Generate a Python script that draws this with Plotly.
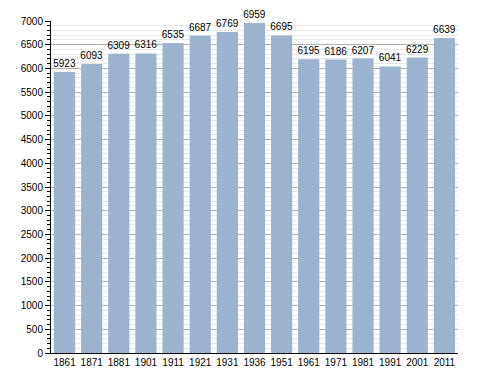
import plotly.graph_objects as go

years = ["1861", "1871", "1881", "1901", "1911", "1921", "1931", "1936", "1951", "1961", "1971", "1981", "1991", "2001", "2011"]
population = [5923, 6093, 6309, 6316, 6535, 6687, 6769, 6959, 6695, 6195, 6186, 6207, 6041, 6229, 6639]

fig = go.Figure(go.Bar(
    x=years, y=population,
    marker=dict(color="#9bb3cf", line=dict(width=0)),
    text=[str(v) for v in population], textposition="outside",
    textfont=dict(family="Liberation Sans, Arial", size=10, color="#000"),
    constraintext="none",
    cliponaxis=False,
))
# page body has an 8px margin, so the figure is sized to fit the 488x373 window
fig.update_layout(
    width=480, height=365,
    margin=dict(l=43, r=30, t=13, b=20, autoexpand=False),
    plot_bgcolor="white", paper_bgcolor="white",
    bargap=0.22, showlegend=False,
    font=dict(family="Liberation Sans, Arial", size=10, color="#000"),
)
fig.update_xaxes(type="category", showline=True, linecolor="#000", linewidth=1,
                 ticks="", tickfont=dict(size=10), showgrid=False, automargin=False)
fig.update_yaxes(range=[0, 7000], dtick=500, showline=True, linecolor="#000", linewidth=1,
                 ticks="outside", ticklen=5, tickcolor="#000", automargin=False,
                 showgrid=True, gridcolor="#b0b0b0", gridwidth=1, zeroline=False,
                 minor=dict(dtick=100, showgrid=True, gridcolor="#e8e8e8", ticks="outside", ticklen=3, tickcolor="#000"),
                 tickfont=dict(size=10))
fig.write_html("out.html")
